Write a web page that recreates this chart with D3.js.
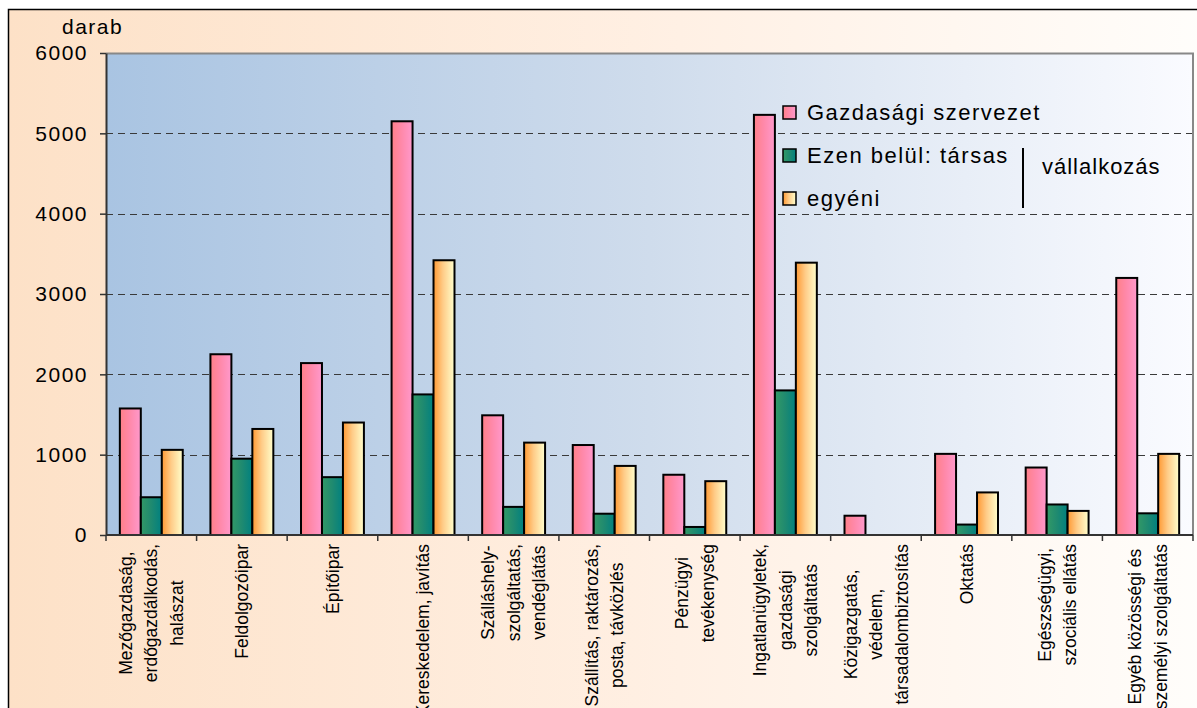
<!DOCTYPE html>
<html>
<head>
<meta charset="utf-8">
<script src="https://cdn.jsdelivr.net/npm/d3@7"></script>
<style>
body { margin: 0; overflow: hidden; background: #fff; }
</style>
</head>
<body>
<script>
// categories (each label split into its lines)
const categories = [
	["Mezőgazdaság,", "erdőgazdálkodás,", "halászat"],
	["Feldolgozóipar"],
	["Építőipar"],
	["Kereskedelem, javítás"],
	["Szálláshely-", "szolgáltatás,", "vendéglátás"],
	["Szállítás, raktározás,", "posta, távközlés"],
	["Pénzügyi", "tevékenység"],
	["Ingatlanügyletek,", "gazdasági", "szolgáltatás"],
	["Közigazgatás,", "védelem,", "társadalombiztosítás"],
	["Oktatás"],
	["Egészségügyi,", "szociális ellátás"],
	["Egyéb közösségi és", "személyi szolgáltatás"]
];
const seriesNames = ["Gazdasági szervezet", "Ezen belül: társas", "egyéni"];
const gazdasagi = [1575, 2250, 2140, 5150, 1490, 1120, 750, 5230, 240, 1010, 840, 3200];
const tarsas = [470, 950, 720, 1750, 350, 265, 100, 1800, 0, 130, 380, 270];
const egyeni = [1060, 1320, 1400, 3420, 1150, 860, 670, 3390, 0, 530, 300, 1010];
const yTicks = [0, 1000, 2000, 3000, 4000, 5000, 6000];

const width = 1197,
	height = 708;
const plotLeft = 106, plotRight = 1193, plotTop = 53, plotBottom = 535;
const font = "'Liberation Sans', Arial, sans-serif";

let svg = d3.select("body")
	.append("svg")
	.attr("width", width)
	.attr("height", height)
	.attr("font-family", font);

let defs = svg.append("defs");

function hGrad(id, stops) {
	let g = defs.append("linearGradient").attr("id", id)
		.attr("x1", "0%").attr("x2", "100%").attr("y1", "0%").attr("y2", "0%");
	stops.forEach(function(s) {
		g.append("stop").attr("offset", s[0]).attr("stop-color", s[1]);
	});
}
hGrad("bgOuter", [[0, "#fde1c7"], [0.55, "#fff0e4"], [1, "#fffefc"]]);
hGrad("bgPlot", [[0, "#a9c4e2"], [0.5, "#cfdcec"], [1, "#fafbff"]]);
hGrad("gPink", [[0, "#ff8088"], [0.45, "#ff88a8"], [1, "#ff99cc"]]);
hGrad("gGreen", [[0, "#339966"], [0.5, "#1f8a70"], [1, "#008080"]]);
hGrad("gYellow", [[0, "#ff9933"], [0.45, "#ffcc88"], [1, "#ffffcc"]]);
const fills = ["url(#gPink)", "url(#gGreen)", "url(#gYellow)"];

// backgrounds
svg.append("rect").attr("x", 0).attr("y", 0).attr("width", width).attr("height", height).attr("fill", "#fff");
svg.append("rect")
	.attr("x", 8.5).attr("y", 9.5).attr("width", 1220).attr("height", 740)
	.attr("fill", "url(#bgOuter)").attr("stroke", "#000").attr("stroke-width", 1.5);
svg.append("rect")
	.attr("x", plotLeft).attr("y", plotTop).attr("width", plotRight - plotLeft).attr("height", plotBottom - plotTop)
	.attr("fill", "url(#bgPlot)");

let y = d3.scaleLinear().domain([0, 6000]).range([plotBottom, plotTop]);
let x0 = d3.scaleBand().domain(d3.range(categories.length)).range([plotLeft, plotRight]).padding(0);
let x1 = d3.scaleBand().domain(d3.range(3)).range([0, x0.bandwidth()]).paddingInner(0).paddingOuter(0.66);

// grid lines
svg.append("g").selectAll("line")
	.data(yTicks.filter(function(d) { return d > 0 && d < 6000; }))
	.enter().append("line")
	.attr("x1", plotLeft).attr("x2", plotRight)
	.attr("y1", function(d) { return Math.round(y(d)) + 0.5; })
	.attr("y2", function(d) { return Math.round(y(d)) + 0.5; })
	.attr("stroke", "#3a3a3a").attr("stroke-width", 1.2)
	.attr("stroke-dasharray", "7,5");

// plot border top and right
svg.append("path")
	.attr("d", "M" + plotLeft + "," + (plotTop + 0.5) + "H" + plotRight + "V" + plotBottom)
	.attr("fill", "none").attr("stroke", "#888").attr("stroke-width", 2);

// bars
let rows = categories.map(function(c, i) {
	return [gazdasagi[i], tarsas[i], egyeni[i]]
		.map(function(v, k) { return {v: v, k: k}; })
		.filter(function(o) { return o.v > 0; });
});
let groups = svg.append("g").selectAll("g")
	.data(rows)
	.enter().append("g")
	.attr("transform", function(d, i) { return "translate(" + x0(i) + ",0)"; });
groups.selectAll("rect")
	.data(function(d) { return d; })
	.enter().append("rect")
	.attr("x", function(d) { return x1(d.k); })
	.attr("y", function(d) { return y(d.v); })
	.attr("width", x1.bandwidth())
	.attr("height", function(d) { return y(0) - y(d.v); })
	.attr("fill", function(d) { return fills[d.k]; })
	.attr("stroke", "#000").attr("stroke-width", 2);

// y axis
let yAxis = svg.append("g")
	.attr("transform", "translate(" + plotLeft + ",0)")
	.call(d3.axisLeft(y).tickValues(yTicks).tickSize(6).tickSizeOuter(0).tickFormat(d3.format("d")));
yAxis.select(".domain").attr("stroke", "#333").attr("stroke-width", 2);
yAxis.selectAll(".tick line").attr("stroke", "#333").attr("stroke-width", 1.5);
yAxis.selectAll(".tick text")
	.attr("x", -18).attr("font-size", 21).attr("font-family", font)
	.attr("letter-spacing", "1.5px").attr("fill", "#000");

// x axis
let xAxis = svg.append("g").attr("transform", "translate(0," + plotBottom + ")");
xAxis.append("line").attr("x1", plotLeft).attr("x2", plotRight).attr("y1", 0).attr("y2", 0)
	.attr("stroke", "#333").attr("stroke-width", 2);
xAxis.selectAll(".xt")
	.data(d3.range(categories.length + 1))
	.enter().append("line")
	.attr("x1", function(d) { return plotLeft + d * x0.step(); })
	.attr("x2", function(d) { return plotLeft + d * x0.step(); })
	.attr("y1", 0).attr("y2", 6)
	.attr("stroke", "#333").attr("stroke-width", 1.5);

// x labels, rotated, top aligned under the axis
let lineGap = 25.5;
let labels = svg.append("g").selectAll("g")
	.data(categories)
	.enter().append("g")
	.attr("transform", function(d, i) { return "translate(" + (x0(i) + x0.bandwidth() / 2) + ",544) rotate(-90)"; });
labels.each(function(lines) {
	let g = d3.select(this);
	let texts = g.selectAll("text")
		.data(lines)
		.enter().append("text")
		.attr("font-size", 17.5)
		.attr("text-anchor", "middle")
		.attr("y", function(d, i) { return (i - (lines.length - 1) / 2) * lineGap; })
		.attr("dy", "0.35em")
		.text(function(d) { return d; });
	let maxLen = d3.max(texts.nodes(), function(n) { return n.getComputedTextLength(); });
	texts.attr("x", -maxLen / 2);
});

// y title
svg.append("text")
	.attr("x", 62).attr("y", 34)
	.attr("font-size", 21).attr("letter-spacing", "1.5px")
	.text("darab");

// legend
let legendY = [112, 155, 198];
let legend = svg.append("g").selectAll("g")
	.data(seriesNames)
	.enter().append("g")
	.attr("transform", function(d, i) { return "translate(783," + legendY[i] + ")"; });
legend.append("rect")
	.attr("x", 0).attr("y", -6).attr("width", 13).attr("height", 13)
	.attr("fill", function(d, i) { return fills[i]; })
	.attr("stroke", "#000").attr("stroke-width", 1.5);
legend.append("text")
	.attr("x", 24).attr("dy", "0.36em")
	.attr("font-size", 22).attr("letter-spacing", "1.5px")
	.text(function(d) { return d; });

svg.append("line")
	.attr("x1", 1023).attr("x2", 1023).attr("y1", 148).attr("y2", 208)
	.attr("stroke", "#000").attr("stroke-width", 2);
svg.append("text")
	.attr("x", 1042).attr("y", 174)
	.attr("font-size", 22).attr("letter-spacing", "1px")
	.text("vállalkozás");
</script>
</body>
</html>
